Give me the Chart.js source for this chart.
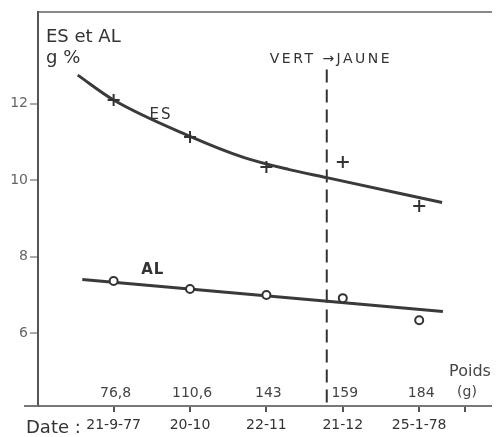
<!DOCTYPE html>
<html>
<head>
<meta charset="utf-8">
<script src="https://cdn.jsdelivr.net/npm/chart.js@4.4.1/dist/chart.umd.min.js"></script>
<style>
  html, body { margin: 0; padding: 0; background: #fff; }
</style>
</head>
<body>
<canvas id="chart" width="499" height="437"></canvas>
<script>
// sampling dates (bottom axis) and fruit weight (poids, g)
const dateLabels = ["21-9-77", "20-10", "22-11", "21-12", "25-1-78"];
const poidsLabels = ["76,8", "110,6", "143", "159", "184"];
const samplePos = [0, 1, 2, 3, 4];

// measured points, g %
const esValues = [12.1, 11.13, 10.35, 10.48, 9.33];
const alValues = [7.37, 7.16, 7.0, 6.92, 6.34];

// hand-drawn trend curves
const esTrendX = [-0.47, 0, 1, 1.7, 2.3, 2.79, 4.3];
const esTrendY = [12.75, 12.1, 11.15, 10.6, 10.28, 10.07, 9.42];
const alTrendX = [-0.41, 4.31];
const alTrendY = [7.41, 6.57];

const yTicks = [6, 8, 10, 12];
const poidsTickPos = 4.6;
const changeX = 2.79; // vert -> jaune
const changeTop = 12.9;

const ink = "#333";
const pts = (xs, ys) => xs.map((v, i) => ({ x: v, y: ys[i] }));

const notes = {
  id: "notes",
  afterDraw(chart) {
    const { ctx, chartArea: a, scales: { x, y } } = chart;
    ctx.save();
    ctx.fillStyle = ink;
    ctx.textAlign = "left";
    ctx.textBaseline = "alphabetic";

    ctx.font = '18px "DejaVu Sans"';
    ctx.fillText("ES et AL", 46, 42);
    ctx.fillText("g %", 46, 63);

    ctx.font = '15px "DejaVu Sans"';
    ctx.letterSpacing = "2px";
    ctx.fillText("ES", x.getPixelForValue(0.47), y.getPixelForValue(11.6));
    ctx.font = 'bold 15px "DejaVu Sans"';
    ctx.letterSpacing = "1px";
    ctx.fillText("AL", x.getPixelForValue(0.36), y.getPixelForValue(7.55));

    ctx.font = '14px "DejaVu Sans"';
    ctx.letterSpacing = "2.5px";
    ctx.fillText("VERT \u2192JAUNE", x.getPixelForValue(changeX) - 57, 63);
    ctx.letterSpacing = "0px";

    // poids above the axis
    ctx.textAlign = "center";
    ctx.font = '14px "DejaVu Sans"';
    ctx.fillStyle = "#444";
    samplePos.forEach((p, i) => {
      ctx.fillText(poidsLabels[i], x.getPixelForValue(p) + 2, a.bottom - 9);
    });
    ctx.font = '16px "DejaVu Sans"';
    ctx.fillText("Poids", x.getPixelForValue(poidsTickPos) + 5, a.bottom - 30);
    ctx.font = '14px "DejaVu Sans"';
    ctx.fillText("(g)", x.getPixelForValue(poidsTickPos) + 2, a.bottom - 10);

    ctx.textAlign = "left";
    ctx.font = '18px "DejaVu Sans"';
    ctx.fillStyle = ink;
    ctx.fillText("Date :", 26, 433);

    // axis line running past the y axis
    ctx.strokeStyle = "#777";
    ctx.lineWidth = 2;
    ctx.beginPath();
    ctx.moveTo(24, a.bottom);
    ctx.lineTo(a.left, a.bottom);
    ctx.stroke();
    ctx.restore();
  }
};

new Chart(document.getElementById("chart"), {
  type: "scatter",
  data: {
    datasets: [
      {
        label: "ES",
        data: pts(samplePos, esValues),
        pointStyle: "cross",
        pointRadius: 6,
        pointBorderWidth: 2,
        borderColor: ink,
        order: 0
      },
      {
        label: "AL",
        data: pts(samplePos, alValues),
        pointStyle: "circle",
        pointRadius: 4,
        pointBorderWidth: 2,
        borderColor: ink,
        backgroundColor: "#fff",
        order: 0
      },
      {
        label: "ES courbe",
        data: pts(esTrendX, esTrendY),
        showLine: true,
        pointRadius: 0,
        borderColor: "#3a3a3a",
        borderWidth: 3,
        cubicInterpolationMode: "monotone",
        order: 1
      },
      {
        label: "AL courbe",
        data: pts(alTrendX, alTrendY),
        showLine: true,
        pointRadius: 0,
        borderColor: "#3a3a3a",
        borderWidth: 3,
        order: 1
      },
      {
        label: "vert-jaune",
        data: [{ x: changeX, y: changeTop }, { x: changeX, y: 4.1 }],
        showLine: true,
        pointRadius: 0,
        borderColor: "#333",
        borderWidth: 2,
        borderDash: [13, 7],
        order: 1
      }
    ]
  },
  options: {
    responsive: false,
    animation: false,
    layout: { padding: 0 },
    plugins: { legend: { display: false }, tooltip: { enabled: false } },
    scales: {
      x: {
        type: "linear",
        min: -0.99,
        max: 4.94,
        afterFit: (axis) => { axis.height = 31; },
        afterBuildTicks: (axis) => {
          axis.ticks = samplePos.concat([poidsTickPos]).map((v) => ({ value: v }));
        },
        ticks: {
          color: ink,
          font: { family: "DejaVu Sans", size: 14 },
          padding: 5,
          maxRotation: 0,
          autoSkip: false,
          callback: (v) => {
            const i = samplePos.indexOf(v);
            return i >= 0 ? dateLabels[i] : "";
          }
        },
        grid: { drawOnChartArea: false, tickLength: 6, color: "#555", lineWidth: 2 },
        border: { display: true, color: "#777", width: 2 }
      },
      xTop: {
        type: "linear",
        position: "top",
        min: -0.99,
        max: 4.94,
        afterFit: (axis) => { axis.height = 12; },
        ticks: { display: false },
        grid: { display: false },
        border: { display: true, color: "#888", width: 2 }
      },
      y: {
        type: "linear",
        min: 4.1,
        max: 14.4,
        afterFit: (axis) => { axis.width = 38; },
        afterBuildTicks: (axis) => {
          axis.ticks = yTicks.map((v) => ({ value: v }));
        },
        ticks: {
          color: "#666",
          font: { family: "DejaVu Sans", size: 14 },
          padding: 2
        },
        grid: { drawOnChartArea: false, tickLength: 8, color: "#aaa", lineWidth: 2 },
        border: { display: true, color: "#555", width: 2 }
      }
    }
  },
  plugins: [notes]
});
</script>
</body>
</html>
